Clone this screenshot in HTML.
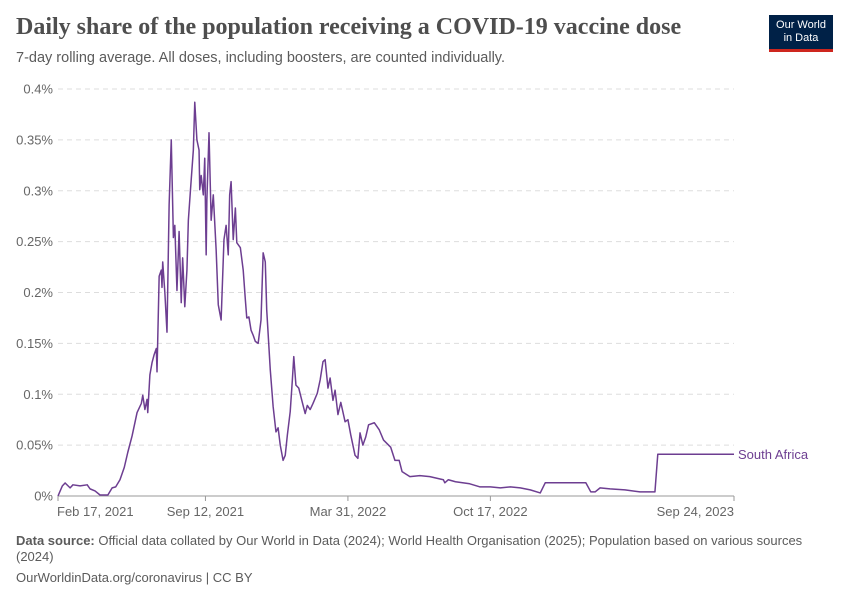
<!DOCTYPE html>
<html><head><meta charset="utf-8"><style>
body{margin:0;width:850px;height:600px;background:#fff;font-family:"Liberation Sans",sans-serif;overflow:hidden;position:relative}
.t{position:absolute;left:16px;top:14px;font-family:"Liberation Serif",serif;font-weight:bold;font-size:24px;color:#4e4e4e;margin:0}
.s{position:absolute;left:16px;top:50px;font-size:14.5px;color:#5b5b5b}
.logo{position:absolute;left:769px;top:15px;width:64px;height:37px;background:#002147;border-bottom:3px solid #ce261e;color:#fff;font-size:11px;line-height:13px;text-align:center;padding-top:4px;box-sizing:border-box}
.f{position:absolute;left:16px;font-size:13px;color:#5b5b5b;line-height:16px}
</style></head><body>
<h1 class="t">Daily share of the population receiving a COVID-19 vaccine dose</h1>
<div class="s">7-day rolling average. All doses, including boosters, are counted individually.</div>
<div class="logo">Our World<br>in Data</div>
<svg id="c" width="850" height="600" style="position:absolute;left:0;top:0"></svg>
<div class="f" style="top:533px;width:800px"><b>Data source:</b> Official data collated by Our World in Data (2024); World Health Organisation (2025); Population based on various sources (2024)</div>
<div class="f" style="top:570px">OurWorldinData.org/coronavirus | CC BY</div>
<script>
const days=[0,6,10,17,21,31,41,45,52,59,70,76,81,87,93,98,104,111,117,119,122,125,126,129,132,135,138,139,142,145,146,147,150,153,156,159,162,164,167,170,173,175,178,181,183,186,190,192,195,198,199,201,204,206,208,209,212,215,218,222,225,229,233,236,239,241,243,246,249,251,256,260,263,265,268,271,274,277,281,285,288,291,293,298,302,306,309,312,316,319,322,326,329,331,334,338,343,347,350,354,358,364,368,372,375,379,382,386,389,393,397,403,407,411,417,421,424,428,432,436,444,451,457,467,473,479,483,494,508,522,541,543,548,558,578,592,607,621,635,649,663,677,684,741,748,754,761,775,796,817,838,842,949];
const values=[0,0.0098,0.0128,0.008,0.011,0.010,0.011,0.007,0.005,0.001,0.001,0.008,0.009,0.016,0.028,0.043,0.059,0.082,0.091,0.099,0.085,0.095,0.082,0.119,0.131,0.139,0.145,0.122,0.216,0.222,0.205,0.230,0.200,0.161,0.286,0.350,0.254,0.266,0.202,0.260,0.190,0.234,0.186,0.222,0.271,0.301,0.340,0.387,0.350,0.340,0.301,0.315,0.296,0.332,0.237,0.291,0.357,0.271,0.296,0.242,0.188,0.173,0.252,0.266,0.237,0.296,0.309,0.252,0.283,0.249,0.244,0.222,0.193,0.175,0.176,0.163,0.158,0.152,0.150,0.173,0.239,0.230,0.183,0.124,0.088,0.063,0.067,0.050,0.035,0.040,0.060,0.083,0.114,0.137,0.109,0.106,0.092,0.081,0.089,0.085,0.091,0.101,0.114,0.132,0.134,0.106,0.116,0.094,0.104,0.080,0.092,0.073,0.075,0.060,0.040,0.037,0.062,0.050,0.058,0.070,0.072,0.065,0.055,0.048,0.035,0.035,0.024,0.019,0.020,0.019,0.016,0.013,0.016,0.014,0.012,0.009,0.009,0.008,0.009,0.008,0.006,0.003,0.013,0.013,0.004,0.004,0.008,0.007,0.006,0.004,0.004,0.041,0.041];
const yTicks=[0,0.05,0.1,0.15,0.2,0.25,0.3,0.35,0.4];
const yLabels=["0%","0.05%","0.1%","0.15%","0.2%","0.25%","0.3%","0.35%","0.4%"];
const xTickDays=[0,207,407,607,949];
const xLabels=["Feb 17, 2021","Sep 12, 2021","Mar 31, 2022","Oct 17, 2022","Sep 24, 2023"];
const X0=58,X1=734,Y0=496,Y1=89,DMAX=949,VMAX=0.4;
const xs=d=>X0+(X1-X0)*d/DMAX, ys=v=>Y0-(Y0-Y1)*v/VMAX;
const svg=document.getElementById('c'),NS='http://www.w3.org/2000/svg';
function mk(t,a){const e=document.createElementNS(NS,t);for(const k in a)e.setAttribute(k,a[k]);svg.appendChild(e);return e;}
yTicks.forEach((v,i)=>{
 if(i>0){const g=mk('line',{x1:X0,x2:X1,y1:ys(v),y2:ys(v),stroke:'#ddd','stroke-dasharray':'5,4'});
 
 }
 const t=mk('text',{x:53,y:ys(v)+4.5,'text-anchor':'end','font-size':13,fill:'#666','font-family':'Liberation Sans'});t.textContent=yLabels[i];
 
 
});
const ax=mk('line',{x1:X0,x2:X1,y1:Y0,y2:Y0,stroke:'#999'});


xTickDays.forEach((d,i)=>{
 const l=mk('line',{x1:xs(d),x2:xs(d),y1:Y0,y2:Y0+5,stroke:'#999'});
 
 
 const anchor=i==0?'start':(i==xTickDays.length-1?'end':'middle');
 const t=mk('text',{x:xs(d)+(i==0?-1:0),y:516,'text-anchor':anchor,'font-size':13,fill:'#666','font-family':'Liberation Sans'});t.textContent=xLabels[i];
 
 
});
const p=mk('polyline',{points:days.map((d,i)=>xs(d)+','+ys(values[i])).join(' '),fill:'none',stroke:'#6d3e91','stroke-width':1.5,'stroke-linejoin':'round'});


const lg=mk('text',{x:738,y:ys(values[values.length-1])+4.5,'font-size':13,fill:'#6d3e91','font-family':'Liberation Sans'});lg.textContent='South Africa';


</script>
</body></html>
